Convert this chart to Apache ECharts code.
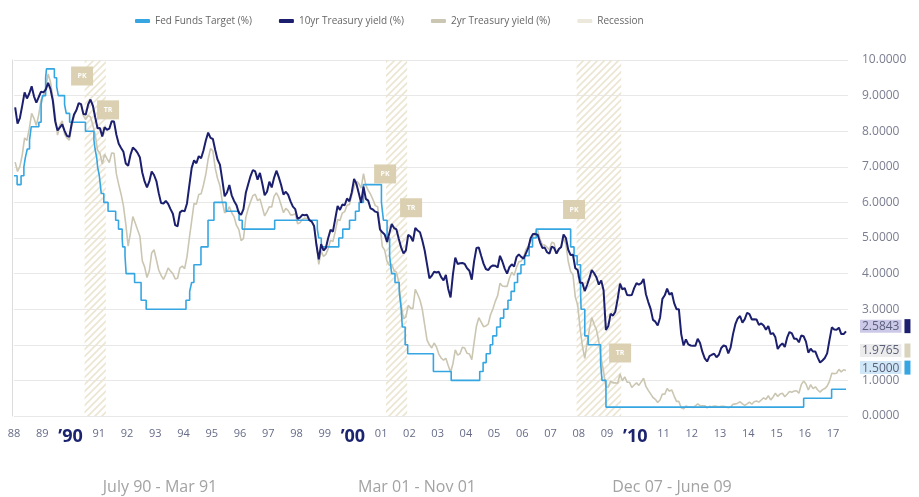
<!DOCTYPE html>
<html>
<head>
<meta charset="utf-8">
<script src="https://cdn.jsdelivr.net/npm/echarts@6/dist/echarts.min.js"></script>
<style>
  html, body { margin: 0; padding: 0; background: #ffffff; }
  #chart { width: 919px; height: 497px; }
</style>
</head>
<body>
<div id="chart"></div>
<script>
// Monthly series start in January of this year
const startYear = 1988;

// 10yr Treasury yield (%), monthly, Jan 1988 onward
const tenYear = [
  8.67, 8.21, 8.37, 8.72, 9.09, 8.92, 9.06, 9.26, 8.98, 8.80, 8.96, 9.11,
  9.09, 9.17, 9.36, 9.18, 8.86, 8.28, 8.02, 8.11, 8.19, 8.01, 7.87, 7.84,
  8.21, 8.47, 8.59, 8.79, 8.76, 8.48, 8.47, 8.75, 8.89, 8.72, 8.39, 8.08,
  8.09, 7.85, 8.11, 8.04, 8.07, 8.28, 8.27, 7.90, 7.65, 7.53, 7.42, 7.09,
  7.03, 7.34, 7.54, 7.48, 7.39, 7.26, 6.84, 6.59, 6.42, 6.59, 6.87, 6.77,
  6.60, 6.26, 5.98, 5.97, 6.04, 5.96, 5.81, 5.68, 5.36, 5.33, 5.72, 5.77,
  5.75, 5.97, 6.48, 6.97, 7.18, 7.10, 7.30, 7.24, 7.46, 7.74, 7.96, 7.81,
  7.78, 7.47, 7.20, 7.06, 6.63, 6.17, 6.28, 6.49, 6.20, 6.04, 5.93, 5.71,
  5.65, 5.81, 6.27, 6.51, 6.74, 6.91, 6.87, 6.64, 6.83, 6.53, 6.20, 6.30,
  6.58, 6.42, 6.69, 6.89, 6.71, 6.49, 6.22, 6.30, 6.21, 6.03, 5.88, 5.81,
  5.54, 5.57, 5.65, 5.64, 5.65, 5.50, 5.46, 5.34, 4.81, 4.40, 4.83, 4.65,
  4.72, 5.00, 5.23, 5.18, 5.54, 5.90, 5.79, 5.94, 5.92, 6.11, 6.03, 6.28,
  6.66, 6.52, 6.26, 5.99, 6.44, 6.10, 6.05, 5.83, 5.80, 5.74, 5.72, 5.24,
  5.16, 5.10, 4.89, 5.14, 5.39, 5.28, 5.24, 4.97, 4.73, 4.57, 4.65, 5.09,
  5.04, 4.91, 5.28, 5.21, 5.16, 4.93, 4.65, 4.26, 3.87, 3.94, 4.05, 4.03,
  4.05, 3.90, 3.81, 3.96, 3.57, 3.33, 3.98, 4.45, 4.27, 4.29, 4.30, 4.27,
  4.15, 4.08, 3.83, 4.35, 4.72, 4.73, 4.50, 4.28, 4.13, 4.10, 4.19, 4.23,
  4.22, 4.17, 4.50, 4.34, 4.14, 4.00, 4.18, 4.26, 4.20, 4.46, 4.54, 4.47,
  4.42, 4.57, 4.72, 4.99, 5.11, 5.11, 5.09, 4.88, 4.72, 4.73, 4.60, 4.56,
  4.76, 4.72, 4.56, 4.69, 4.75, 5.10, 5.00, 4.67, 4.52, 4.53, 4.15, 4.10,
  3.74, 3.74, 3.51, 3.68, 3.88, 4.10, 4.01, 3.89, 3.69, 3.81, 3.53, 2.42,
  2.52, 2.87, 2.82, 2.93, 3.29, 3.72, 3.56, 3.59, 3.40, 3.39, 3.40, 3.59,
  3.73, 3.69, 3.73, 3.85, 3.42, 3.20, 3.01, 2.70, 2.65, 2.54, 2.76, 3.29,
  3.39, 3.58, 3.41, 3.46, 3.17, 3.00, 3.00, 2.30, 1.98, 2.15, 2.01, 1.98,
  1.97, 1.97, 2.17, 2.05, 1.80, 1.62, 1.53, 1.68, 1.72, 1.75, 1.65, 1.72,
  1.91, 1.98, 1.96, 1.76, 1.93, 2.30, 2.58, 2.74, 2.81, 2.62, 2.72, 2.90,
  2.86, 2.71, 2.72, 2.71, 2.56, 2.60, 2.54, 2.42, 2.53, 2.30, 2.33, 2.21,
  1.88, 1.98, 2.04, 1.94, 2.20, 2.36, 2.32, 2.17, 2.17, 2.07, 2.26, 2.24,
  2.09, 1.78, 1.89, 1.81, 1.81, 1.64, 1.50, 1.56, 1.63, 1.76, 2.14, 2.49,
  2.43, 2.42, 2.48, 2.30, 2.30, 2.38
];

// 2yr Treasury yield (%), monthly, Jan 1988 onward
const twoYear = [
  7.13, 6.87, 7.01, 7.33, 7.81, 7.74, 8.07, 8.50, 8.36, 8.16, 8.46, 8.88,
  8.98, 9.23, 9.61, 9.38, 8.95, 8.44, 7.89, 8.18, 8.29, 7.92, 7.81, 7.75,
  8.12, 8.42, 8.60, 8.77, 8.74, 8.43, 8.33, 8.44, 8.40, 8.17, 7.90, 7.47,
  7.38, 7.08, 7.35, 7.23, 7.12, 7.39, 7.38, 6.80, 6.50, 6.23, 5.90, 5.39,
  4.77, 5.15, 5.60, 5.42, 5.23, 5.05, 4.36, 4.19, 3.89, 4.08, 4.58, 4.67,
  4.39, 4.10, 3.95, 3.84, 3.98, 4.16, 4.07, 4.00, 3.85, 3.87, 4.16, 4.21,
  4.14, 4.47, 5.00, 5.48, 5.97, 5.95, 6.22, 6.24, 6.49, 6.79, 7.22, 7.51,
  7.45, 6.96, 6.67, 6.47, 6.02, 5.71, 5.75, 5.88, 5.71, 5.60, 5.36, 5.24,
  4.93, 4.98, 5.58, 5.83, 6.02, 6.19, 6.23, 6.05, 6.10, 5.86, 5.62, 5.74,
  5.88, 5.87, 6.17, 6.27, 6.14, 5.93, 5.71, 5.83, 5.77, 5.65, 5.65, 5.68,
  5.40, 5.43, 5.52, 5.56, 5.55, 5.51, 5.46, 5.34, 4.83, 4.26, 4.64, 4.48,
  4.54, 4.70, 4.94, 4.90, 5.18, 5.52, 5.49, 5.70, 5.74, 5.92, 5.94, 6.19,
  6.44, 6.60, 6.53, 6.40, 6.81, 6.48, 6.34, 6.23, 6.08, 5.91, 5.88, 5.35,
  4.76, 4.66, 4.34, 4.23, 4.26, 4.08, 4.04, 3.76, 3.12, 2.73, 2.78, 3.11,
  3.03, 3.02, 3.56, 3.42, 3.26, 2.99, 2.56, 2.13, 2.00, 1.91, 2.05, 1.94,
  1.74, 1.63, 1.57, 1.62, 1.42, 1.23, 1.47, 1.86, 1.71, 1.75, 1.93, 1.91,
  1.76, 1.74, 1.58, 2.07, 2.53, 2.76, 2.64, 2.51, 2.53, 2.58, 2.85, 3.01,
  3.22, 3.38, 3.73, 3.65, 3.64, 3.64, 3.87, 4.04, 3.95, 4.17, 4.33, 4.35,
  4.45, 4.68, 4.77, 4.90, 5.00, 5.16, 5.22, 4.97, 4.81, 4.80, 4.74, 4.67,
  4.88, 4.85, 4.57, 4.67, 4.77, 5.00, 4.82, 4.34, 4.06, 3.97, 3.34, 3.12,
  2.48, 1.97, 1.62, 2.05, 2.45, 2.77, 2.57, 2.42, 2.08, 1.61, 1.25, 0.82,
  0.81, 0.98, 0.93, 0.93, 0.92, 1.18, 0.99, 1.10, 0.95, 0.95, 0.80, 0.87,
  0.93, 0.86, 0.96, 1.06, 0.83, 0.72, 0.62, 0.52, 0.47, 0.38, 0.45, 0.62,
  0.61, 0.77, 0.70, 0.73, 0.56, 0.41, 0.41, 0.23, 0.20, 0.28, 0.25, 0.26,
  0.24, 0.28, 0.34, 0.29, 0.29, 0.29, 0.23, 0.27, 0.26, 0.28, 0.27, 0.26,
  0.27, 0.27, 0.26, 0.23, 0.25, 0.33, 0.34, 0.36, 0.40, 0.34, 0.30, 0.34,
  0.39, 0.33, 0.40, 0.42, 0.39, 0.45, 0.51, 0.47, 0.57, 0.45, 0.53, 0.64,
  0.55, 0.62, 0.64, 0.54, 0.61, 0.69, 0.67, 0.70, 0.71, 0.64, 0.88, 0.98,
  0.90, 0.73, 0.88, 0.77, 0.82, 0.73, 0.67, 0.74, 0.77, 0.84, 0.98, 1.20,
  1.19, 1.20, 1.31, 1.24, 1.30, 1.28
];

// Fed Funds target: date of each change (decimal year) and the new rate (%)
const fedDates = [
  1988.00, 1988.11, 1988.25, 1988.35, 1988.40, 1988.47, 1988.55, 1988.61, 1988.88, 1988.96,
  1989.01, 1989.12, 1989.15, 1989.43, 1989.51, 1989.57, 1989.79, 1989.85, 1989.97,
  1990.53, 1990.83, 1990.87, 1990.93, 1990.96,
  1991.02, 1991.09, 1991.18, 1991.33, 1991.60, 1991.70, 1991.83, 1991.85, 1991.93, 1991.97,
  1992.27, 1992.50, 1992.68,
  1994.09, 1994.22, 1994.29, 1994.37, 1994.62, 1994.87,
  1995.08, 1995.51, 1995.97, 1996.08, 1997.23,
  1998.74, 1998.79, 1998.88, 1999.50, 1999.64, 1999.88,
  2000.09, 2000.22, 2000.37,
  2001.01, 2001.08, 2001.21, 2001.30, 2001.37, 2001.49, 2001.64, 2001.71, 2001.75, 2001.85, 2001.94,
  2002.85, 2003.48,
  2004.49, 2004.61, 2004.72, 2004.86, 2004.95,
  2005.09, 2005.22, 2005.34, 2005.49, 2005.60, 2005.72, 2005.83, 2005.95,
  2006.08, 2006.24, 2006.36, 2006.49,
  2007.71, 2007.83, 2007.94,
  2008.06, 2008.08, 2008.21, 2008.33, 2008.77, 2008.82, 2008.96,
  2015.96, 2016.95, 2017.46
];
const fedRates = [
  6.75, 6.5, 6.75, 7.0, 7.25, 7.5, 7.75, 8.125, 8.25, 8.75,
  9.0, 9.5, 9.75, 9.5, 9.25, 9.0, 8.75, 8.5, 8.25,
  8.0, 7.75, 7.5, 7.25, 7.0,
  6.75, 6.25, 6.0, 5.75, 5.5, 5.25, 5.0, 4.75, 4.5, 4.0,
  3.75, 3.25, 3.0,
  3.25, 3.5, 3.75, 4.25, 4.75, 5.5,
  6.0, 5.75, 5.5, 5.25, 5.5,
  5.25, 5.0, 4.75, 5.0, 5.25, 5.5,
  5.75, 6.0, 6.5,
  6.0, 5.5, 5.0, 4.5, 4.0, 3.75, 3.5, 3.0, 2.5, 2.0, 1.75,
  1.25, 1.0,
  1.25, 1.5, 1.75, 2.0, 2.25,
  2.5, 2.75, 3.0, 3.25, 3.5, 3.75, 4.0, 4.25,
  4.5, 4.75, 5.0, 5.25,
  4.75, 4.5, 4.25,
  3.5, 3.0, 2.25, 2.0, 1.5, 1.0, 0.25,
  0.5, 0.75, 0.75
];

// Recession periods (decimal years) and their captions
const recessionStart = [1990.50, 2001.17, 2007.92];
const recessionEnd = [1991.25, 2001.92, 2009.50];
const recessionCaptions = ['July 90 - Mar 91', 'Mar 01 - Nov 01', 'Dec 07 - June 09'];

// Cycle markers: peak / trough tags placed around each recession
const markerX = [1990.41, 1991.33, 2001.14, 2002.06, 2007.83, 2009.46];
const markerY = [9.55, 8.6, 6.8, 5.85, 5.8, 1.77];
const markerText = ['PK', 'TR', 'PK', 'TR', 'PK', 'TR'];

// Latest readings shown on the value axis: Fed Funds, 10yr, 2yr
const latestValues = [1.5, 2.5843, 1.9765];

// Axis ticks
const yMin = 0, yMax = 10, yStep = 1;
const xMin = 1988, xMax = 2017.53, xStep = 1;

const COLORS = {
  fed: '#35a6e2',
  ten: '#1b1f6e',
  two: '#cbc6b2',
  rec: '#ece8dc'
};

function monthly(values) {
  return values.map((v, i) => [startYear + Math.floor(i / 12) + ((i % 12) + 0.5) / 12, v]);
}

// Diagonal hatch used to fill recession bands
const hatch = document.createElement('canvas');
hatch.width = 7; hatch.height = 7;
(function () {
  const c = hatch.getContext('2d');
  c.strokeStyle = '#ebe5d2';
  c.lineWidth = 1.6;
  c.beginPath();
  c.moveTo(0, 7); c.lineTo(7, 0);
  c.moveTo(-2, 2); c.lineTo(2, -2);
  c.moveTo(5, 9); c.lineTo(9, 5);
  c.stroke();
})();

function latestMark(value, bg, marker, dy) {
  return {
    silent: true,
    symbol: 'none',
    lineStyle: { width: 0, color: 'rgba(0,0,0,0)' },
    data: [{ yAxis: value }],
    label: {
      show: true,
      position: 'end',
      distance: 12,
      offset: [0, dy],
      formatter: '{v|' + value.toFixed(4) + '}{s|}{m|}',
      rich: {
        v: { backgroundColor: bg, color: '#5a5f7a', fontSize: 12, fontFamily: 'Open Sans', padding: [1, 2, 0, 2], lineHeight: 14 },
        s: { width: 3 },
        m: { backgroundColor: marker, width: 6, height: 14 }
      }
    }
  };
}

const chart = echarts.init(document.getElementById('chart'), null, { renderer: 'canvas' });

chart.setOption({
  animation: false,
  backgroundColor: '#ffffff',
  textStyle: { fontFamily: 'Open Sans' },
  legend: {
    left: 130,
    top: 11,
    itemGap: 27,
    itemWidth: 15,
    itemHeight: 4,
    icon: 'roundRect',
    textStyle: { color: '#666', fontSize: 10 },
    data: ['Fed Funds Target (%)', '10yr Treasury yield (%)', '2yr Treasury yield (%)', 'Recession']
  },
  grid: { left: 14, right: 71, top: 60, bottom: 81 },
  xAxis: {
    type: 'value',
    min: xMin,
    max: xMax,
    interval: xStep,
    axisLine: { show: false },
    axisTick: { show: false },
    splitLine: { show: false },
    axisLabel: {
      margin: 12,
      color: '#666b88',
      fontSize: 11,
      showMaxLabel: false,
      formatter: function (v) {
        const yr = Math.round(v);
        if (Math.abs(v - yr) > 1e-6) return '';
        const yy = String(yr % 100).padStart(2, '0');
        return yr % 10 === 0 ? '{b|\u2019' + yy + '}' : yy;
      },
      rich: {
        b: { fontSize: 18, fontWeight: 'bold', color: '#1c2470', fontFamily: 'Open Sans' }
      }
    }
  },
  yAxis: [
    {
      type: 'value',
      position: 'right',
      min: yMin,
      max: yMax,
      interval: yStep,
      axisLine: { show: false },
      axisTick: { show: false },
      splitLine: { lineStyle: { color: '#e8e8e8', width: 1 } },
      axisLabel: {
        margin: 14,
        color: '#7a7d90',
        fontSize: 12,
        formatter: function (v) { return v === 2 ? '' : v.toFixed(4); }
      }
    },
    {
      type: 'value',
      position: 'left',
      min: yMin,
      max: yMax,
      interval: yStep,
      offset: 2,
      axisLine: { show: true, lineStyle: { color: '#dcdcdc' } },
      axisTick: { show: false },
      axisLabel: { show: false },
      splitLine: { show: false }
    }
  ],
  series: [
    {
      name: 'Recession',
      type: 'line',
      data: [],
      itemStyle: { color: COLORS.rec },
      lineStyle: { color: COLORS.rec },
      markArea: {
        silent: true,
        itemStyle: { color: { image: hatch, repeat: 'repeat' } },
        data: recessionStart.map((s, i) => [{ xAxis: s }, { xAxis: recessionEnd[i] }])
      }
    },
    {
      name: '2yr Treasury yield (%)',
      type: 'line',
      showSymbol: false,
      data: monthly(twoYear),
      itemStyle: { color: COLORS.two },
      lineStyle: { color: COLORS.two, width: 1.6 },
      z: 3,
      markLine: latestMark(latestValues[2], '#ececec', '#d9d3bd', 5)
    },
    {
      name: 'Fed Funds Target (%)',
      type: 'line',
      step: 'end',
      showSymbol: false,
      data: fedDates.map((d, i) => [d, fedRates[i]]),
      itemStyle: { color: COLORS.fed },
      lineStyle: { color: COLORS.fed, width: 1.6 },
      z: 4,
      markLine: latestMark(latestValues[0], '#cfe7f7', COLORS.fed, 5)
    },
    {
      name: '10yr Treasury yield (%)',
      type: 'line',
      showSymbol: false,
      data: monthly(tenYear),
      itemStyle: { color: COLORS.ten },
      lineStyle: { color: COLORS.ten, width: 2 },
      z: 5,
      markLine: latestMark(latestValues[1], '#ccc8e8', COLORS.ten, 2)
    },
    {
      name: 'markers',
      type: 'scatter',
      symbol: 'rect',
      symbolSize: [22, 19],
      data: markerX.map((x, i) => [x, markerY[i], markerText[i]]),
      itemStyle: { color: '#d9cfae', opacity: 0.95 },
      label: {
        show: true,
        position: 'inside',
        color: '#ffffff',
        fontSize: 7,
        fontWeight: 'bold',
        formatter: p => p.value[2]
      },
      z: 6,
      silent: true
    }
  ],
  graphic: recessionCaptions.map((t, i) => ({
    type: 'text',
    x: [160, 417, 672][i],
    y: 479,
    style: { text: t, fill: '#a3a3a3', fontSize: 16, fontFamily: 'Open Sans', align: 'center' }
  }))
});
</script>
</body>
</html>
